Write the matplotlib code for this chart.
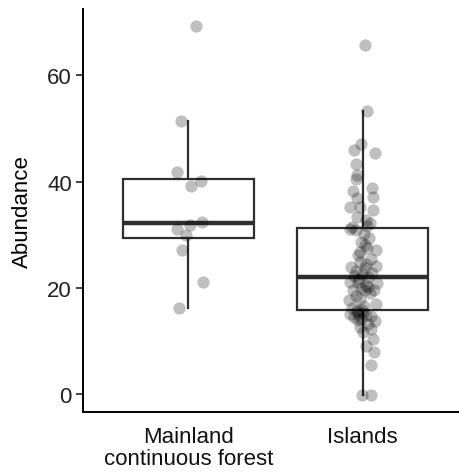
import numpy as np
import matplotlib
matplotlib.use("Agg")
import matplotlib.pyplot as plt

plt.rcParams['font.family'] = ['Liberation Sans', 'DejaVu Sans']

# categories and tick labels
categories = ["Mainland", "Islands"]
tick_labels = ["Mainland\ncontinuous forest", "Islands"]

# abundance values
mainland = [69.3, 51.5, 41.8, 40.1, 39.2, 32.4, 31.9, 31.1, 30.0, 27.2, 21.0, 16.1]
mainland_jit = [0.045, -0.045, -0.064, 0.070, 0.016, 0.079, 0.007, -0.064, -0.014, -0.037, 0.082, -0.056]

islands = [65.8, 53.3, 47.0, 46.0, 45.4, 43.4, 41.3, 40.4, 38.7, 38.2,
           37.0, 36.9, 35.3, 35.3, 34.7, 33.4, 32.8, 32.2, 31.6, 31.4,
           31.1, 30.8, 30.2, 29.3, 28.7, 28.0, 27.5, 27.2, 26.7, 26.1,
           25.5, 24.9, 24.4, 24.1, 23.9, 23.7, 23.2, 22.8, 22.5, 22.2,
           22.0, 21.6, 21.1, 21.1, 20.9, 20.5, 20.2, 19.9, 19.6, 19.6,
           19.6, 19.0, 18.5, 17.9, 17.6, 17.0, 16.6, 16.2, 15.9, 15.8,
           15.5, 15.3, 15.1, 14.9, 14.8, 14.6, 14.4, 14.2, 14.0, 13.8,
           13.2, 12.6, 12.2, 11.6, 10.3, 9.0, 7.9, 5.5, -0.2, -0.2]
islands_jit = [0.014, 0.028, -0.009, -0.051, 0.074, -0.039, -0.033, -0.037, 0.056, -0.056,
               0.062, -0.030, -0.072, -0.014, 0.059, -0.030, 0.020, 0.043, 0.028, -0.060,
               -0.072, -0.037, 0.009, 0.039, -0.009, 0.014, 0.028, 0.078, -0.014, -0.024,
               0.049, -0.014, 0.020, 0.078, -0.068, 0.014, -0.037, 0.055, -0.003, -0.049,
               0.032, -0.020, -0.072, -0.024, 0.082, 0.020, 0.033, -0.009, 0.014, 0.066,
               -0.053, 0.043, -0.037, -0.014, -0.076, 0.078, 0.009, -0.060, -0.033, -0.005,
               -0.032, 0.003, -0.072, 0.020, -0.020, 0.049, -0.049, -0.009, -0.026, 0.072,
               0.032, -0.014, 0.049, 0.005, 0.059, 0.020, 0.068, 0.051, -0.005, 0.047]

data = [mainland, islands]
jitter = [mainland_jit, islands_jit]

fig = plt.figure(figsize=(4.6, 4.77), dpi=100)
ax = fig.add_axes([83 / 460, 64 / 477, 377 / 460, 403 / 477])

line_col = "#2e2e2e"
ax.boxplot(data, positions=range(len(categories)), widths=0.75, whis=1.5,
           showfliers=False, patch_artist=True,
           boxprops=dict(facecolor="white", edgecolor=line_col, linewidth=1.6),
           whiskerprops=dict(color=line_col, linewidth=1.6),
           capprops=dict(linewidth=0),
           medianprops=dict(color=line_col, linewidth=3.2),
           zorder=2)

for i, (vals, jit) in enumerate(zip(data, jitter)):
    x = i + np.array(jit)
    ax.scatter(x, vals, s=78, color="black", alpha=0.25, linewidths=0, zorder=3)

ax.set_xlim(-0.606, 1.56)
ax.set_ylim(-3.4, 72.5)
ax.set_yticks([0, 20, 40, 60])
ax.set_xticks(range(len(categories)))
ax.set_xticklabels(tick_labels, linespacing=1.05)
ax.set_ylabel("Abundance", fontsize=16, color="black", labelpad=10)

ax.tick_params(axis="y", length=5, width=1.2, color="#222222", labelsize=16,
               labelcolor="#222222", pad=3)
ax.tick_params(axis="x", length=0, labelsize=16, labelcolor="#111111", pad=10)

for s in ["top", "right"]:
    ax.spines[s].set_visible(False)
for s in ["left", "bottom"]:
    ax.spines[s].set_linewidth(1.4)
    ax.spines[s].set_color("black")

fig.savefig("out.png", dpi=100)
